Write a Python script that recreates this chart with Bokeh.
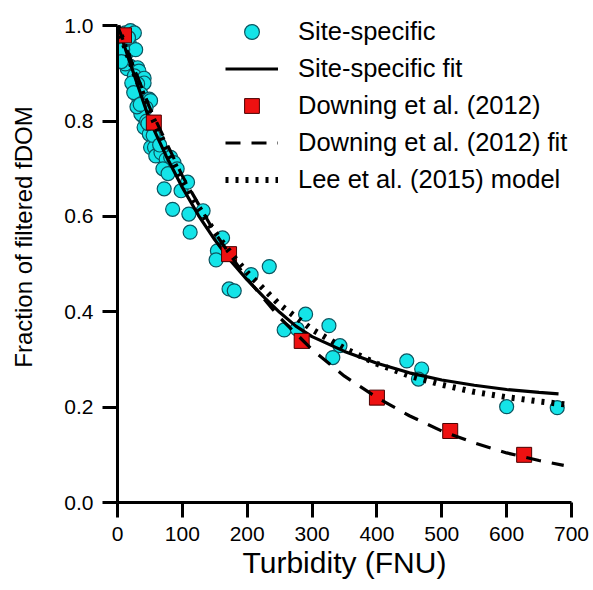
from bokeh.plotting import figure
from bokeh.models import Legend, LegendItem, FixedTicker, PrintfTickFormatter, Range1d
from bokeh.embed import file_html
from bokeh.resources import INLINE

# ---- data ----
site_x = [12, 20, 26, 18, 15, 28, 10, 20, 15, 31, 33, 26, 41, 41, 28, 31, 36, 33, 49, 51,
          44, 38, 36, 41, 49, 62, 51, 57, 59, 67, 75, 82, 87, 92, 72, 98, 108, 85, 110, 132,
          112, 162, 154, 152, 172, 180, 206, 234, 257, 277, 290, 326, 343, 332, 446, 469,
          464, 600, 678,
          5, 8, 12, 22, 25, 30, 45, 55, 65, 70, 78, 6, 17, 35, 47]
site_y = [0.985, 0.99, 0.985, 0.965, 0.945, 0.95, 0.935, 0.915, 0.91, 0.912, 0.905, 0.895,
          0.89, 0.88, 0.868, 0.878, 0.857, 0.846, 0.846, 0.843, 0.828, 0.812, 0.815, 0.787,
          0.773, 0.759, 0.745, 0.745, 0.727, 0.734, 0.72, 0.724, 0.713, 0.70, 0.658, 0.654,
          0.672, 0.615, 0.605, 0.612, 0.567, 0.555, 0.528, 0.509, 0.448, 0.444, 0.478, 0.495,
          0.362, 0.364, 0.395, 0.371, 0.329, 0.304, 0.297, 0.280, 0.259, 0.201, 0.199,
          0.97, 0.95, 0.92, 0.88, 0.86, 0.83, 0.80, 0.77, 0.75, 0.70, 0.69, 0.925, 0.975,
          0.835, 0.795]

downing_x = [10, 56, 172, 284, 400, 513, 627]
downing_y = [0.98, 0.797, 0.521, 0.339, 0.220, 0.150, 0.100]

site_fit_x = [0, 25, 50, 75, 100, 125, 150, 175, 200, 225, 250, 275, 300, 350, 400, 450,
              500, 550, 600, 650, 680]
site_fit_y = [1.0, 0.90, 0.80, 0.727, 0.661, 0.602, 0.551, 0.506, 0.467, 0.432, 0.399,
              0.370, 0.348, 0.317, 0.292, 0.272, 0.257, 0.246, 0.237, 0.231, 0.228]

downing_fit_x = [0, 50, 100, 150, 200, 250, 300, 350, 400, 450, 500, 550, 600, 650, 688]
downing_fit_y = [1.0, 0.827, 0.685, 0.566, 0.469, 0.388, 0.321, 0.265, 0.220, 0.182,
                 0.150, 0.125, 0.104, 0.088, 0.078]

lee_x = [0, 25, 50, 75, 100, 125, 150, 175, 200, 250, 300, 350, 400, 450, 500, 550, 600,
         650, 696]
lee_y = [1.0, 0.904, 0.819, 0.744, 0.677, 0.619, 0.567, 0.522, 0.482, 0.415, 0.363, 0.323,
         0.291, 0.266, 0.247, 0.232, 0.221, 0.212, 0.205]

x_ticks = [0, 100, 200, 300, 400, 500, 600, 700]
y_ticks = [0.0, 0.2, 0.4, 0.6, 0.8, 1.0]

labels = ["Site-specific", "Site-specific fit", "Downing et al. (2012)",
          "Downing et al. (2012) fit", "Lee et al. (2015) model"]
x_title = "Turbidity (FNU)"
y_title = "Fraction of filtered fDOM"

FONT = "Liberation Sans"

p = figure(width=593, height=590, output_backend="svg", toolbar_location=None,
           x_range=Range1d(0, 700), y_range=Range1d(0, 1.03),
           min_border_left=117, min_border_right=22, min_border_top=11,
           min_border_bottom=88)
p.outline_line_color = None
p.xgrid.visible = False
p.ygrid.visible = False
p.background_fill_color = "white"
p.border_fill_color = "white"

r_site = p.scatter(site_x, site_y, marker="circle", size=14, fill_color="#14e4e8",
                   line_color="#0b5560", line_width=1.2)
r_site_fit = p.line(site_fit_x, site_fit_y, line_color="black", line_width=3.2)
r_down = p.scatter(downing_x, downing_y, marker="square", size=15, fill_color="#ee1111",
                   line_color="#4a0000", line_width=1)
r_down_fit = p.line(downing_fit_x, downing_fit_y, line_color="black", line_width=3.2,
                    line_dash="15 11")
r_lee = p.line(lee_x, lee_y, line_color="black", line_width=6, line_dash="3 7")

for ax in (p.xaxis[0], p.yaxis[0]):
    ax.axis_line_width = 3
    ax.axis_line_color = "black"
    ax.major_tick_line_width = 3
    ax.major_tick_line_color = "black"
    ax.major_tick_out = 15
    ax.major_tick_in = 0
    ax.minor_tick_line_color = None
    ax.major_label_text_font = FONT
    ax.major_label_text_font_size = "21px"
    ax.major_label_text_color = "black"
    ax.axis_label_text_font = FONT
    ax.axis_label_text_font_style = "normal"
    ax.axis_label_text_color = "black"

p.xaxis.ticker = FixedTicker(ticks=x_ticks)
p.yaxis.ticker = FixedTicker(ticks=y_ticks)
p.yaxis.bounds = (0, 1.0)
p.yaxis.formatter = PrintfTickFormatter(format="%.1f")
p.xaxis.axis_label = x_title
# leading no-break spaces move the centred title up, as in the reference
p.yaxis.axis_label = "\u00a0" * 6 + y_title
p.xaxis.axis_label_text_font_size = "30px"
p.yaxis.axis_label_text_font_size = "24px"
p.xaxis.major_label_standoff = 9
p.xaxis.axis_label_standoff = 2
p.yaxis.major_label_standoff = 9
p.yaxis.axis_label_standoff = 24

legend = Legend(items=[LegendItem(label=labels[0], renderers=[r_site]),
                       LegendItem(label=labels[1], renderers=[r_site_fit]),
                       LegendItem(label=labels[2], renderers=[r_down]),
                       LegendItem(label=labels[3], renderers=[r_down_fit]),
                       LegendItem(label=labels[4], renderers=[r_lee])],
                location=(108, 304))
legend.background_fill_alpha = 0
legend.border_line_alpha = 0
legend.padding = 0
legend.margin = 0
legend.spacing = 0
legend.glyph_width = 53
legend.glyph_height = 37
legend.label_height = 37
legend.label_standoff = 20
legend.label_text_font = FONT
legend.label_text_font_size = "25.5px"
legend.label_text_color = "black"
p.add_layout(legend)

open("out.html", "w").write(file_html(p, INLINE))
